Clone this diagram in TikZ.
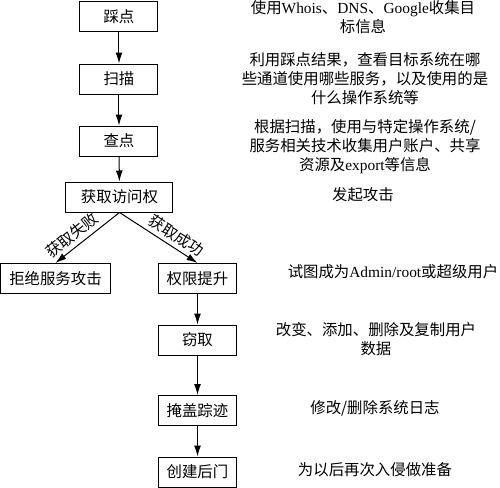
\documentclass[tikz,border=0pt]{standalone}
\usepackage{fontspec}
\setmainfont{Noto Sans CJK SC}
\newfontfamily\lat{Liberation Serif}
\usetikzlibrary{arrows.meta}
\tikzset{
  box/.style={draw,line width=0.5pt,minimum width=39pt,minimum height=15pt,inner sep=0pt},
  arr/.style={-{Latex[length=5.5pt,width=3.5pt]},line width=0.5pt},
  note/.style={align=center,inner sep=0pt}
}
\begin{document}
\begin{tikzpicture}[x=0.5pt,y=-0.5pt,font=\fontsize{7.7}{9.5}\selectfont]
  \useasboundingbox (0,0) rectangle (500,488);
  % main column
  \node[box] (foot) at (119,16.5) {踩点};
  \node[box] (scan) at (119,79) {扫描};
  \node[box] (enum) at (119,141) {查点};
  \node[box,minimum width=53.5pt] (acc) at (119.5,197) {获取访问权};
  \draw[arr] (foot) -- (scan);
  \draw[arr] (scan) -- (enum);
  \draw[arr] (enum) -- (acc);
  % branches
  \node[box,minimum width=55pt] (dos) at (55.5,278.5) {拒绝服务攻击};
  \node[box] (priv) at (197.5,278.5) {权限提升};
  \draw[arr] (acc.south) -- node[sloped,above,pos=0.63,inner sep=2pt] {获取失败} (dos.north);
  \draw[arr] (acc.south) -- node[sloped,above,pos=0.65,inner sep=2pt] {获取成功} (priv.north);
  % after success
  \node[box] (steal) at (197.5,340) {窃取};
  \node[box] (hide) at (197.5,410.5) {掩盖踪迹};
  \node[box] (door) at (197.5,472) {创建后门};
  \draw[arr] (priv) -- (steal);
  \draw[arr] (steal) -- (hide);
  \draw[arr] (hide) -- (door);
  % descriptions
  \node[note] (d1) at (363,17) {使用{\lat Whois}、{\lat DNS}、{\lat Google}收集目\\标信息};
  \node[note] (d2) at (365,79) {利用踩点结果，查看目标系统在哪\\些通道使用哪些服务，以及使用的是\\什么操作系统等};
  \node[note] (d3) at (365,147) {根据扫描，使用与特定操作系统/\\服务相关技术收集用户账户、共享\\资源及{\lat export}等信息};
  \node[note] (d4) at (363,195) {发起攻击};
  \node[note] (d5) at (393,272) {试图成为{\lat Admin/root}或超级用户};
  \node[note] (d6) at (376,339) {改变、添加、删除及复制用户\\数据};
  \node[note] (d7) at (375,408) {修改/删除系统日志};
  \node[note] (d8) at (375,470) {为以后再次入侵做准备};
\end{tikzpicture}
\end{document}
